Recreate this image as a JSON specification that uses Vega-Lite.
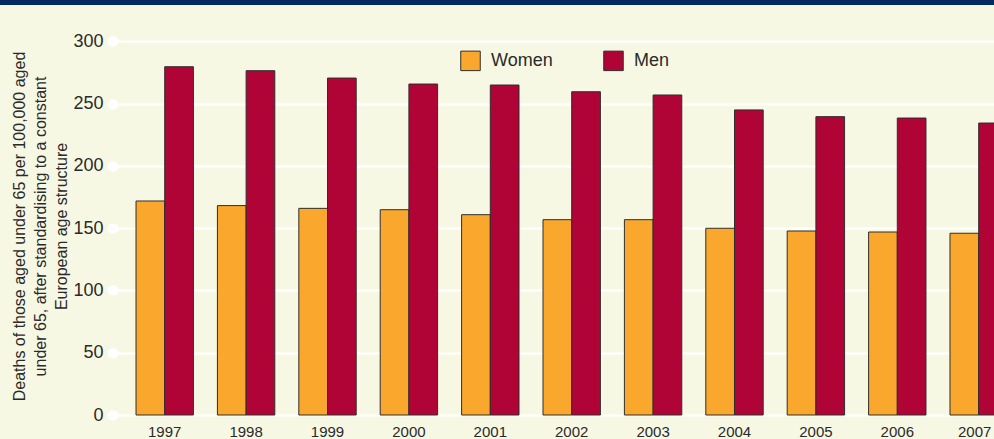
{
  "$schema": "https://vega.github.io/schema/vega-lite/v6.json",
  "width": 994,
  "height": 434,
  "autosize": {"type": "none"},
  "padding": {"left": 0, "top": 5, "right": 0, "bottom": 0},
  "background": "#012a5e",
  "config": {
    "view": {"fill": "#f7f8e4", "stroke": null},
    "font": "Liberation Sans"
  },
  "data": {
    "values": [
      {"year": "1997", "sex": "Women", "rate": 171.8},
      {"year": "1997", "sex": "Men", "rate": 279.6},
      {"year": "1998", "sex": "Women", "rate": 168.1},
      {"year": "1998", "sex": "Men", "rate": 276.4},
      {"year": "1999", "sex": "Women", "rate": 165.9},
      {"year": "1999", "sex": "Men", "rate": 270.5},
      {"year": "2000", "sex": "Women", "rate": 164.8},
      {"year": "2000", "sex": "Men", "rate": 265.7},
      {"year": "2001", "sex": "Women", "rate": 160.8},
      {"year": "2001", "sex": "Men", "rate": 264.9},
      {"year": "2002", "sex": "Women", "rate": 156.8},
      {"year": "2002", "sex": "Men", "rate": 259.5},
      {"year": "2003", "sex": "Women", "rate": 156.8},
      {"year": "2003", "sex": "Men", "rate": 256.9},
      {"year": "2004", "sex": "Women", "rate": 149.9},
      {"year": "2004", "sex": "Men", "rate": 244.9},
      {"year": "2005", "sex": "Women", "rate": 147.7},
      {"year": "2005", "sex": "Men", "rate": 239.5},
      {"year": "2006", "sex": "Women", "rate": 146.9},
      {"year": "2006", "sex": "Men", "rate": 238.4},
      {"year": "2007", "sex": "Women", "rate": 145.9},
      {"year": "2007", "sex": "Men", "rate": 234.4}
    ]
  },
  "mark": {"type": "bar", "stroke": "#2e2e2e", "strokeWidth": 1},
  "encoding": {
    "x": {
      "field": "year",
      "type": "nominal",
      "scale": {"range": [111.6, 1031.8], "paddingInner": 0.295, "paddingOuter": 0.3},
      "axis": {
        "title": null,
        "orient": "bottom",
        "offset": -24,
        "labelAngle": 0,
        "labelFontSize": 15,
        "labelColor": "#2a2a2a",
        "labelPadding": 9,
        "labelOffset": {"condition": {"test": "datum.value == '2007'", "value": -4}, "value": 0},
        "ticks": false,
        "domain": false,
        "grid": false
      }
    },
    "xOffset": {
      "field": "sex",
      "type": "nominal",
      "sort": ["Women", "Men"],
      "scale": {"paddingInner": 0, "paddingOuter": 0}
    },
    "y": {
      "field": "rate",
      "type": "quantitative",
      "scale": {"domain": [0, 300], "range": [410, 36.3], "nice": false},
      "axis": {
        "orient": "left",
        "offset": -113,
        "values": [0, 50, 100, 150, 200, 250, 300],
        "title": ["Deaths of those aged under 65 per 100,000 aged", "under 65, after standardising to a constant", "European age structure"],
        "titleFontSize": 16,
        "titleFontWeight": "normal",
        "titleColor": "#2a2a2a",
        "titleLineHeight": 21,
        "titleAngle": 270,
        "titleAlign": "center",
        "titleBaseline": "bottom",
        "titleX": -86,
        "titleY": 221,
        "labelFontSize": 18,
        "labelColor": "#2a2a2a",
        "labelPadding": 9,
        "tickSize": 1,
        "tickWidth": 10,
        "tickCap": "round",
        "tickColor": "#ffffff",
        "domain": false,
        "grid": true,
        "gridColor": "#ffffff",
        "gridWidth": 2,
        "gridOpacity": 1
      }
    },
    "color": {
      "field": "sex",
      "type": "nominal",
      "scale": {"domain": ["Women", "Men"], "range": ["#faa82d", "#b00336"]},
      "legend": {
        "title": null,
        "orient": "none",
        "legendX": 460,
        "legendY": 45,
        "direction": "horizontal",
        "symbolType": "square",
        "symbolSize": 380,
        "symbolStrokeColor": "#2e2e2e",
        "symbolStrokeWidth": 1,
        "symbolOpacity": 1,
        "labelFontSize": 18,
        "labelColor": "#2a2a2a",
        "labelOffset": 10,
        "columnPadding": 48,
        "padding": 0
      }
    }
  }
}
